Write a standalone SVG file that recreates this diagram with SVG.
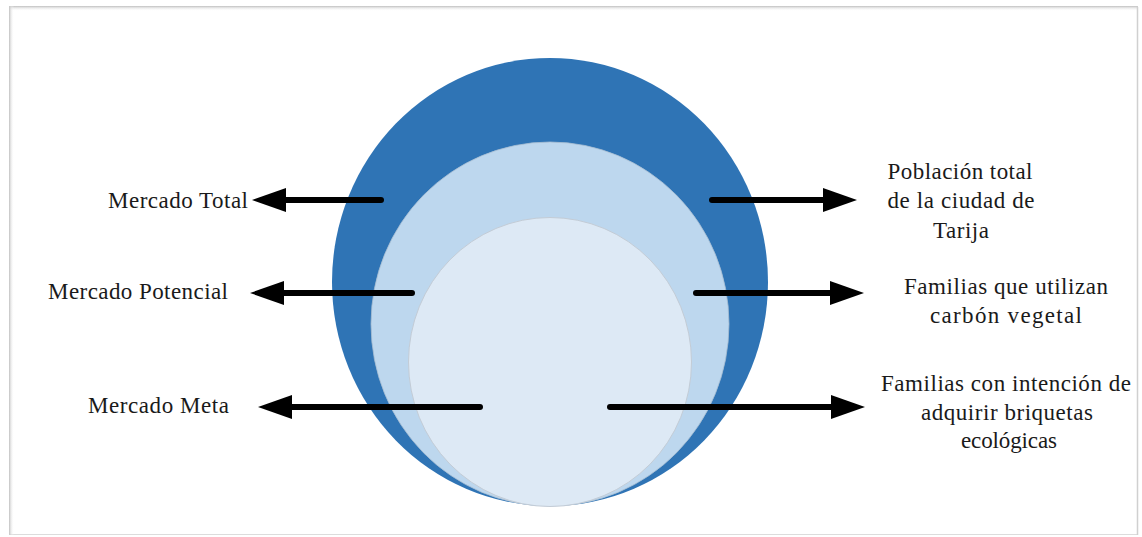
<svg xmlns="http://www.w3.org/2000/svg" width="1142" height="537" viewBox="0 0 1142 537">
  <style>
    text { font-family: 'Liberation Serif', 'Times New Roman', serif; font-size: 23px; fill: #1a1a1a; }
    .mid { text-anchor: middle; }
    .conn { stroke: #000; stroke-width: 6; stroke-linecap: round; fill: none; marker-end: url(#head); }
  </style>
  <defs>
    <marker id="head" viewBox="0 0 34 24" refX="3" refY="12" markerWidth="34" markerHeight="24" markerUnits="userSpaceOnUse" orient="auto">
      <path d="M0,0 L34,12 L0,24 Z" fill="#000"/>
    </marker>
    <linearGradient id="edgeTop" x1="0" y1="0" x2="0" y2="1">
      <stop offset="0" stop-color="#c4c4c4"/>
      <stop offset="1" stop-color="#ffffff" stop-opacity="0"/>
    </linearGradient>
    <linearGradient id="edgeLeft" x1="0" y1="0" x2="1" y2="0">
      <stop offset="0" stop-color="#c4c4c4"/>
      <stop offset="1" stop-color="#ffffff" stop-opacity="0"/>
    </linearGradient>
  </defs>

  <!-- page frame -->
  <rect width="1142" height="537" fill="#ffffff"/>
  <g id="frame">
    <rect x="9.5" y="6.5" width="1128" height="528" fill="none" stroke="#dcdcdc" stroke-width="1"/>
    <rect x="9" y="6" width="1129" height="5" fill="url(#edgeTop)"/>
    <rect x="9" y="6" width="5" height="529" fill="url(#edgeLeft)"/>
    <line x1="1137.5" y1="7" x2="1137.5" y2="535" stroke="#d0d0d0" stroke-width="1.5"/>
  </g>

  <!-- nested market circles -->
  <g id="mercado-total-circle">
    <ellipse cx="550" cy="282" rx="218" ry="224" fill="#2f74b5"/>
  </g>
  <g id="mercado-potencial-circle">
    <ellipse cx="550" cy="324" rx="179" ry="182" fill="#bdd7ee" stroke="#a9bfd3" stroke-width="0.8"/>
  </g>
  <g id="mercado-meta-circle">
    <ellipse cx="550" cy="362" rx="141.5" ry="144.5" fill="#dde9f5" stroke="#c3ccd6" stroke-width="1"/>
  </g>

  <!-- connectors -->
  <g id="connectors">
    <line class="conn" x1="381" y1="200" x2="283" y2="200"/>
    <line class="conn" x1="412" y1="293" x2="281" y2="293"/>
    <line class="conn" x1="480" y1="407" x2="289" y2="407"/>
    <line class="conn" x1="712" y1="200" x2="826" y2="200"/>
    <line class="conn" x1="696" y1="293" x2="833" y2="293"/>
    <line class="conn" x1="610" y1="407" x2="834" y2="407"/>
  </g>

  <!-- left labels -->
  <g id="label-mercado-total">
    <text x="108" y="208" textLength="140" lengthAdjust="spacing">Mercado Total</text>
  </g>
  <g id="label-mercado-potencial">
    <text x="48" y="299" textLength="180" lengthAdjust="spacing">Mercado Potencial</text>
  </g>
  <g id="label-mercado-meta">
    <text x="88" y="413" textLength="141" lengthAdjust="spacing">Mercado Meta</text>
  </g>

  <!-- right labels -->
  <g id="label-poblacion">
    <text class="mid" x="960" y="179" textLength="145" lengthAdjust="spacing">Población total</text>
    <text class="mid" x="961" y="208" textLength="147" lengthAdjust="spacing">de la ciudad de</text>
    <text class="mid" x="961" y="238" textLength="56" lengthAdjust="spacing">Tarija</text>
  </g>
  <g id="label-familias-carbon">
    <text class="mid" x="1006" y="294" textLength="204" lengthAdjust="spacing">Familias que utilizan</text>
    <text class="mid" x="1006" y="323" textLength="152" lengthAdjust="spacing">carbón vegetal</text>
  </g>
  <g id="label-familias-briquetas">
    <text class="mid" x="1006" y="391" textLength="250" lengthAdjust="spacing">Familias con intención de</text>
    <text class="mid" x="1007" y="420" textLength="172" lengthAdjust="spacing">adquirir briquetas</text>
    <text class="mid" x="1009" y="448" textLength="96" lengthAdjust="spacing">ecológicas</text>
  </g>
</svg>
